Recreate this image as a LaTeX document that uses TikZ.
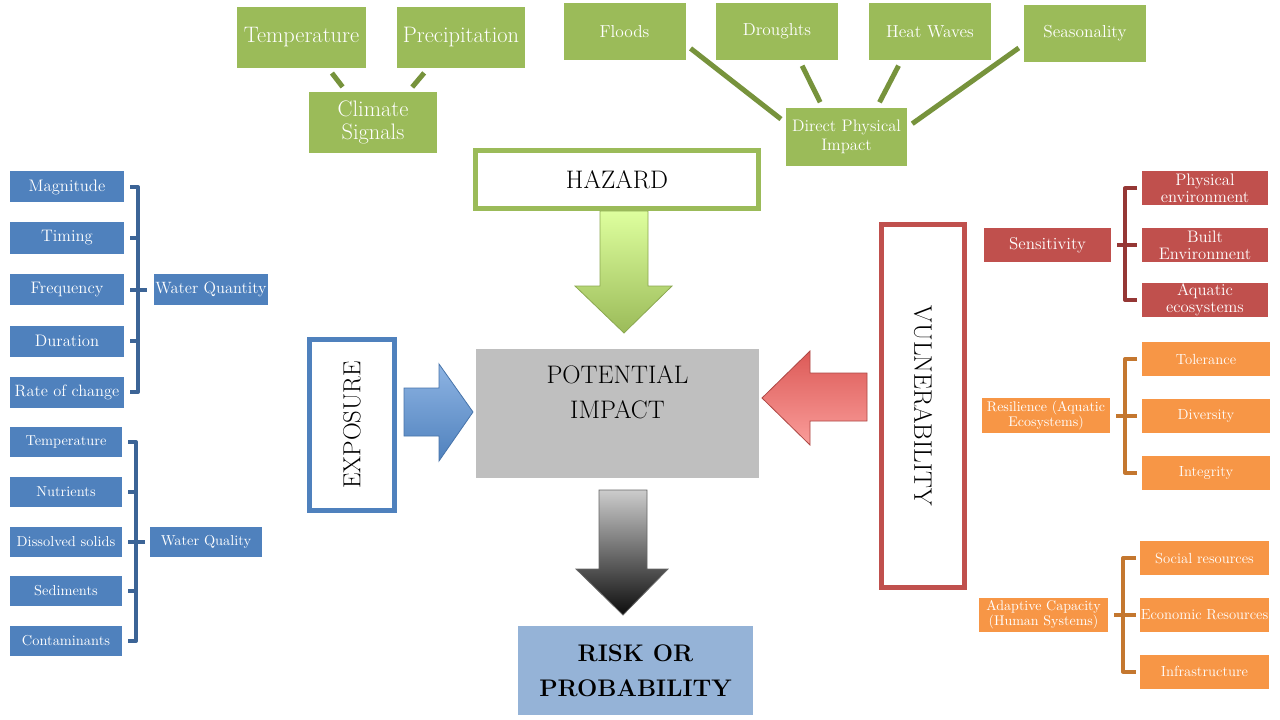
\documentclass[tikz,border=0pt]{standalone}
\usepackage{amsmath}
\usepackage{fontspec}
\usepackage{tikz}
\usetikzlibrary{calc}

\definecolor{grn}{HTML}{9BBB59}
\definecolor{grndark}{HTML}{77933C}
\definecolor{blu}{HTML}{4F81BD}
\definecolor{bludark}{HTML}{3C6496}
\definecolor{rd}{HTML}{C0504D}
\definecolor{rddark}{HTML}{953735}
\definecolor{orng}{HTML}{F79646}
\definecolor{orngdark}{HTML}{C4772F}
\definecolor{impgray}{HTML}{BFBFBF}
\definecolor{riskblue}{HTML}{95B3D7}
\definecolor{arrred}{HTML}{DC5A57}
\definecolor{arrpink}{HTML}{FA9D9A}
\definecolor{arrlime}{HTML}{DEFF9E}
\definecolor{arrblue}{HTML}{8EB4E3}

\begin{document}
\begin{tikzpicture}[x=0.75pt, y=-0.75pt,
	sz/.style 2 args={minimum width=#1*0.75pt, minimum height=#2*0.75pt},
	box/.style={shape=rectangle, inner sep=0pt, outer sep=0pt, align=center, text=white},
	gbox/.style={box, fill=grn},
	bbox/.style={box, fill=blu},
	rbox/.style={box, fill=rd},
	obox/.style={box, fill=orng},
	frame/.style={shape=rectangle, inner sep=0pt, outer sep=0pt, align=center, fill=white, line width=3.6pt},
	gline/.style={draw=grndark, line width=3.75pt, shorten <=4.8pt, shorten >=4.8pt},
	brq/.style={draw=bludark, line width=3pt, line join=round},
	brs/.style={draw=rddark, line width=3pt, line join=round},
	bro/.style={draw=orngdark, line width=3pt, line join=round}
	]
	
	\path[fill=white] (0, 0) rectangle (1280, 720);
	\useasboundingbox (0, 0) rectangle (1280, 720);
	
	\node[gbox, sz={129}{61}, font=\fontsize{16.8}{17.5}\selectfont] (temp) at (301.5, 37.5) {Temperature};
	\node[gbox, sz={128}{61}, font=\fontsize{16.8}{17.5}\selectfont] (precip) at (461, 37.5) {Precipitation};
	\node[gbox, sz={128}{61}, font=\fontsize{16.8}{17.5}\selectfont] (clim) at (373, 122.5) {Climate\\Signals};
	
	\node[gbox, sz={122}{57}, font=\fontsize{13}{14}\selectfont] (flood) at (624.5, 31.5) {Floods};
	\node[gbox, sz={122}{57}, font=\fontsize{13}{14}\selectfont] (drought) at (777, 31.5) {Droughts};
	\node[gbox, sz={122}{57}, font=\fontsize{13}{14}\selectfont] (heat) at (930, 31.5) {Heat Waves};
	\node[gbox, sz={122}{57}, font=\fontsize{13}{14}\selectfont] (season) at (1085, 33.5) {Seasonality};
	\node[gbox, sz={121}{58}, font=\fontsize{12.5}{14}\selectfont] (dpi) at (846.5, 137) {Direct Physical\\Impact};
	
	\path[gline] (temp.-49) edge (clim.131);
	\path[gline] (precip.-137) edge (clim.41);
	\path[gline] (flood.-12) edge (dpi.167);
	\path[gline] (drought.-52) edge (dpi.129);
	\path[gline] (heat.225) edge (dpi.44);
	\path[gline] (season.190) edge (dpi.9);
	
	\node[frame, draw=grn, sz={283}{58}, font=\fontsize{19}{20}\selectfont] (hazard) at (617, 179.5) {HAZARD};
	\node[shape=rectangle, fill=impgray, sz={283}{129}, label={[inner sep=0pt, align=center, anchor=north, yshift=-12.75pt, font=\fontsize{19}{26}\selectfont]north:POTENTIAL\\IMPACT}] (impact) at (617.5, 413.5) {};
	\node[frame, draw=blu, rotate=90, sz={171}{85}, font=\fontsize{18.5}{20}\selectfont] (expo) at (352, 425) {EXPOSURE};
	\node[frame, draw=rd, rotate=-90, sz={363}{83}, font=\fontsize{19}{20}\selectfont] (vuln) at (923, 406) {VULNERABILITY};
	\node[shape=rectangle, fill=riskblue, align=center, sz={235}{89}, font=\bfseries\fontsize{18}{26}\selectfont] (risk) at (635.5, 670.5) {RISK OR\\PROBABILITY};
	
	\shade[top color=arrlime, bottom color=grn, draw=grn!90!black, line width=0.6pt] (600, 211) -- (648, 211) -- (648, 286) -- (672, 286) -- (624, 333) -- (575, 286) -- (600, 286) -- cycle;
	\shade[top color=arrblue, bottom color=blu, draw=blu!90!black, line width=0.6pt] (404, 388) -- (439, 388) -- (439, 364) -- (473, 412) -- (439, 461) -- (439, 436) -- (404, 436) -- cycle;
	\shade[top color=arrred, bottom color=arrpink, draw=rd!90!black, line width=0.6pt] (867, 373) -- (810, 373) -- (810, 351) -- (762, 398) -- (810, 445) -- (810, 421) -- (867, 421) -- cycle;
	\shade[top color=black!20, middle color=black!50, bottom color=black!95, draw=black!60, line width=0.6pt] (599, 490) -- (647, 490) -- (647, 569) -- (668, 569) -- (623, 615) -- (576, 569) -- (599, 569) -- cycle;
	
	\node[bbox, sz={114}{31}, font=\fontsize{12.5}{13}\selectfont] (magn) at (67, 187) {Magnitude};
	\node[bbox, sz={114}{31}, font=\fontsize{12.5}{13}\selectfont] (tim) at (67, 238) {Timing};
	\node[bbox, sz={114}{31}, font=\fontsize{12.5}{13}\selectfont] (freq) at (67, 289.5) {Frequency};
	\node[bbox, sz={114}{31}, font=\fontsize{12.5}{13}\selectfont] (dur) at (67, 341) {Duration};
	\node[bbox, sz={114}{31}, font=\fontsize{12.3}{13}\selectfont] (rate) at (67, 392) {Rate of change};
	\node[bbox, sz={114}{31}, font=\fontsize{12.3}{13}\selectfont] (wquant) at (211, 289.5) {Water Quantity};
	
	\draw[brq] ($(magn.east)+(6, 0)$) -| ($(wquant.west)+(-16, 0)$) |- ($(rate.east)+(6, 0)$);
	\draw[brq] ($(freq.east)+(6, 0)$) -- ($(wquant.west)+(-7, 0)$);
	\draw[brq] ($(tim.east)+(6, 0)$) -- +(8, 0);
	\draw[brq] ($(dur.east)+(6, 0)$) -- +(8, 0);
	
	\node[bbox, sz={112}{30}, font=\fontsize{10.8}{12}\selectfont] (wtemp) at (66, 442) {Temperature};
	\node[bbox, sz={112}{30}, font=\fontsize{10.8}{12}\selectfont] (nutr) at (66, 492) {Nutrients};
	\node[bbox, sz={112}{30}, font=\fontsize{10.8}{12}\selectfont] (diss) at (66, 542) {Dissolved solids};
	\node[bbox, sz={112}{30}, font=\fontsize{10.8}{12}\selectfont] (sedi) at (66, 591) {Sediments};
	\node[bbox, sz={112}{30}, font=\fontsize{10.8}{12}\selectfont] (cont) at (66, 641) {Contaminants};
	\node[bbox, sz={112}{30}, font=\fontsize{10.8}{12}\selectfont] (wqual) at (206, 542) {Water Quality};
	
	\draw[brq] ($(wtemp.east)+(6, 0)$) -| ($(wqual.west)+(-14, 0)$) |- ($(cont.east)+(6, 0)$);
	\draw[brq] ($(diss.east)+(6, 0)$) -- ($(wqual.west)+(-5, 0)$);
	\draw[brq] ($(nutr.east)+(6, 0)$) -- +(8, 0);
	\draw[brq] ($(sedi.east)+(6, 0)$) -- +(8, 0);
	
	\node[rbox, sz={127}{34}, font=\fontsize{12.8}{13}\selectfont] (sens) at (1047.5, 245) {Sensitivity};
	\node[rbox, sz={126}{34}, font=\fontsize{12.5}{13}\selectfont] (phys) at (1205, 188.5) {Physical\\environment};
	\node[rbox, sz={126}{34}, font=\fontsize{12.5}{13}\selectfont] (built) at (1205, 245) {Built\\Environment};
	\node[rbox, sz={126}{34}, font=\fontsize{12.5}{13}\selectfont] (aqua) at (1205, 300) {Aquatic\\ecosystems};
	
	\draw[brs] ($(phys.west)+(-5, 0)$) -| ($(sens.east)+(14, 0)$) |- ($(aqua.west)+(-5, 0)$);
	\draw[brs] ($(sens.east)+(6, 0)$) -- ($(built.west)+(-5, 0)$);
	
	\node[obox, sz={128}{35}, font=\fontsize{10.5}{11.5}\selectfont] (resil) at (1046, 415.5) {Resilience (Aquatic\\Ecosystems)};
	\node[obox, sz={128}{34}, font=\fontsize{11}{12}\selectfont] (toler) at (1206, 359) {Tolerance};
	\node[obox, sz={128}{34}, font=\fontsize{11}{12}\selectfont] (divers) at (1206, 415.5) {Diversity};
	\node[obox, sz={128}{34}, font=\fontsize{11}{12}\selectfont] (integ) at (1206, 472.5) {Integrity};
	
	\draw[bro] ($(toler.west)+(-5, 0)$) -| ($(resil.east)+(15, 0)$) |- ($(integ.west)+(-5, 0)$);
	\draw[bro] ($(resil.east)+(6, 0)$) -- ($(divers.west)+(-5, 0)$);
	
	\node[obox, sz={129}{34}, font=\fontsize{10.5}{11.5}\selectfont] (adapt) at (1043.5, 615) {Adaptive Capacity\\(Human Systems)};
	\node[obox, sz={129}{34}, font=\fontsize{11}{12}\selectfont] (social) at (1204.5, 558) {Social resources};
	\node[obox, sz={129}{34}, font=\fontsize{11}{12}\selectfont] (econ) at (1204.5, 615) {Economic Resources};
	\node[obox, sz={129}{34}, font=\fontsize{11}{12}\selectfont] (infra) at (1204.5, 671.5) {Infrastructure};
	
	\draw[bro] ($(social.west)+(-4, 0)$) -| ($(adapt.east)+(15, 0)$) |- ($(infra.west)+(-4, 0)$);
	\draw[bro] ($(adapt.east)+(6, 0)$) -- ($(econ.west)+(-4, 0)$);
	
\end{tikzpicture}
\end{document}
